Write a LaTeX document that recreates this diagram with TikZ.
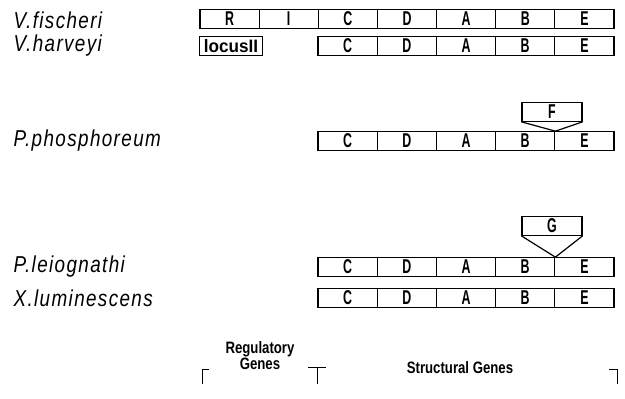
\documentclass[tikz,border=0pt]{standalone}
\usepackage{fontspec}
\setmainfont{Liberation Sans}
\newfontfamily\speciesfamily[FakeStretch=0.82,LetterSpace=6]{Liberation Sans}
\newfontfamily\genefamily[FakeStretch=0.62]{Liberation Sans}
\newfontfamily\smallfamily[FakeStretch=0.8]{Liberation Sans}
\newfontfamily\locusfamily[FakeStretch=0.95]{Liberation Sans}
\begin{document}
\begin{tikzpicture}[x=1pt,y=-1pt,line width=1.2pt,
  species/.style={anchor=west,inner sep=0,font=\speciesfamily\fontsize{23}{24}\selectfont\itshape},
  gene/.style={draw,minimum width=59.2pt,minimum height=18.5pt,inner sep=0,
    font=\genefamily\bfseries\fontsize{20}{20}\selectfont},
  caption/.style={inner sep=0,align=center,font=\smallfamily\bfseries\fontsize{16.5}{13}\selectfont},
  bracket/.style={line width=0.9pt}]
\useasboundingbox (0,0) rectangle (625,399);

% species names
\node[species] (n1) at (13,20) {V.fischeri};
\node[species] (n2) at (13,46) {V.harveyi};
\node[species] (n3) at (13,141) {P.phosphoreum};
\node[species] (n4) at (13,267) {P.leiognathi};
\node[species] (n5) at (13,298) {X.luminescens};

% V. fischeri: regulatory and structural genes
\foreach \l [count=\i] in {R,I,C,D,A,B,E}
  \node[gene,minimum width=59.14pt] (a\i) at ({229.57+59.14*(\i-1)},19) {\l};

% V. harveyi
\node[draw,inner sep=0,minimum width=63pt,minimum height=18.5pt,
  font=\locusfamily\bfseries\fontsize{18}{18}\selectfont] (loc) at (231,46) {locusII};
\foreach \l [count=\i] in {C,D,A,B,E}
  \node[gene] (b\i) at ({347.6+59.2*(\i-1)},46) {\l};

% P. phosphoreum with inserted gene F
\foreach \l [count=\i] in {C,D,A,B,E}
  \node[gene] (c\i) at ({347.6+59.2*(\i-1)},141) {\l};
\node[gene,minimum width=60pt] (F) at (552,112) {F};
\draw (F.south west) -- (c4.north east) -- (F.south east);

% P. leiognathi with inserted gene G
\foreach \l [count=\i] in {C,D,A,B,E}
  \node[gene] (d\i) at ({347.6+59.2*(\i-1)},267) {\l};
\node[gene,minimum width=60pt] (G) at (552,226) {G};
\draw (G.south west) -- (d4.north east) -- (G.south east);

% X. luminescens
\foreach \l [count=\i] in {C,D,A,B,E}
  \node[gene] (e\i) at ({347.6+59.2*(\i-1)},298) {\l};

% brackets for gene classes
\coordinate (k1) at (202,369);
\coordinate (k2) at (317,367);
\coordinate (k3) at (617,369);
\draw[bracket] (k1) ++(0,15) |- ++(7,-15);
\draw[bracket] (k2) ++(-9,0) -- ++(18,0) (k2) -- ++(0,17);
\draw[bracket] (k3) ++(-8,0) -| ++(8,15);
\node[caption] (reg) at (260,356) {Regulatory\\Genes};
\node[caption] (str) at (460,368) {Structural Genes};
\end{tikzpicture}
\end{document}
